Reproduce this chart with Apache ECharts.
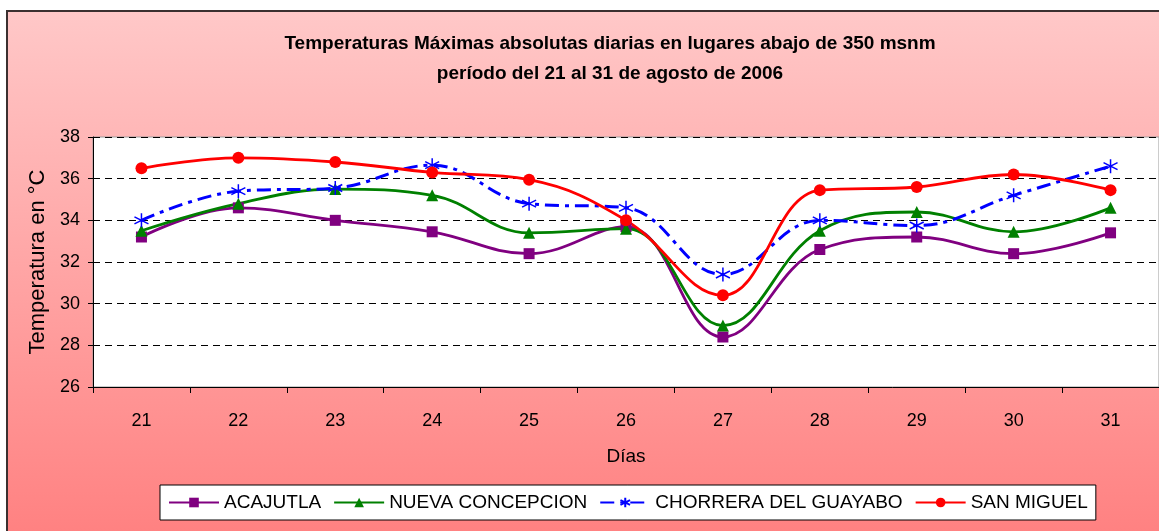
<!DOCTYPE html>
<html>
<head>
<meta charset="utf-8">
<style>
  html, body { margin: 0; padding: 0; background: #fff; }
  #chart { width: 1159px; height: 531px; }
</style>
<script src="https://cdn.jsdelivr.net/npm/echarts@6/dist/echarts.min.js"></script>
</head>
<body>
<div id="chart"></div>
<script>
// data
const days = ['21', '22', '23', '24', '25', '26', '27', '28', '29', '30', '31'];
const acajutla = [33.2, 34.6, 34.0, 33.45, 32.4, 33.7, 28.4, 32.6, 33.2, 32.4, 33.4];
const nuevaConcepcion = [33.5, 34.8, 35.5, 35.2, 33.4, 33.6, 28.95, 33.5, 34.4, 33.45, 34.6];
const chorrera = [34.0, 35.4, 35.55, 36.65, 34.8, 34.6, 31.4, 34.0, 33.75, 35.2, 36.6];
const sanMiguel = [36.5, 37.0, 36.8, 36.3, 35.95, 34.0, 30.4, 35.45, 35.6, 36.2, 35.45];

const font = '"Liberation Sans", Arial, sans-serif';
const asterisk = 'path://M5,0L5,10M0.7,2.5L9.3,7.5M0.7,7.5L9.3,2.5';

const chart = echarts.init(document.getElementById('chart'));

function line(name, data, color, symbol, size, extra) {
    return Object.assign({
        name: name,
        type: 'line',
        smooth: 0.4,
        data: data,
        symbol: symbol,
        symbolSize: size,
        lineStyle: { width: 2.8, color: color },
        itemStyle: { color: color }
    }, extra || {});
}

const option = {
    animation: false,
    graphic: [
        {
            type: 'rect',
            z: -10,
            silent: true,
            shape: { x: 7, y: 11, width: 1160, height: 530 },
            style: {
                fill: new echarts.graphic.LinearGradient(0, 0, 0, 1, [
                    { offset: 0, color: '#FFC8C8' },
                    { offset: 1, color: '#FF8080' }
                ]),
                stroke: '#3b3030',
                lineWidth: 2
            }
        }
    ],
    title: {
        text: 'Temperaturas Máximas absolutas diarias en lugares abajo de 350 msnm\nperíodo del 21 al 31 de agosto de 2006',
        left: 605,
        top: 24,
        textAlign: 'center',
        textStyle: {
            fontFamily: font,
            fontSize: 19,
            fontWeight: 'bold',
            color: '#000',
            lineHeight: 30
        }
    },
    legend: {
        left: 160,
        top: 485,
        padding: [8, 8],
        itemGap: 12,
        itemWidth: 50,
        itemHeight: 12,
        backgroundColor: '#fff',
        borderColor: '#000',
        borderWidth: 1,
        textStyle: { fontFamily: font, fontSize: 19, color: '#000' },
        data: ['ACAJUTLA', 'NUEVA CONCEPCION', 'CHORRERA DEL GUAYABO', 'SAN MIGUEL']
    },
    grid: {
        left: 93,
        top: 137,
        right: 0,
        bottom: 144,
        show: true,
        backgroundColor: '#fff',
        borderColor: '#999',
        borderWidth: 1
    },
    xAxis: {
        type: 'category',
        data: days,
        name: 'Días',
        nameLocation: 'middle',
        nameGap: 60,
        nameTextStyle: { fontFamily: font, fontSize: 19, color: '#000' },
        axisLine: { lineStyle: { color: '#000', width: 1 } },
        axisTick: { show: true, length: 6, lineStyle: { color: '#000' } },
        axisLabel: { margin: 25, fontFamily: font, fontSize: 18, color: '#000' }
    },
    yAxis: {
        type: 'value',
        min: 26,
        max: 38,
        interval: 2,
        name: 'Temperatura en °C',
        nameLocation: 'middle',
        nameGap: 44,
        nameTextStyle: { fontFamily: font, fontSize: 22, color: '#000' },
        axisLine: { show: true, lineStyle: { color: '#000', width: 1 } },
        axisTick: { show: true, length: 5, lineStyle: { color: '#000' } },
        axisLabel: { margin: 13, fontFamily: font, fontSize: 18, color: '#000' },
        splitLine: { lineStyle: { color: '#000', type: [7, 5], width: 1 } }
    },
    series: [
        line('ACAJUTLA', acajutla, '#800080', 'rect', 11),
        line('NUEVA CONCEPCION', nuevaConcepcion, '#008000', 'triangle', 12),
        line('CHORRERA DEL GUAYABO', chorrera, '#0000FF', asterisk, 14, {
            lineStyle: { width: 3, color: '#0000FF', type: [14, 6, 4, 6] },
            itemStyle: { color: 'none', borderColor: '#0000FF', borderWidth: 1.5 }
        }),
        line('SAN MIGUEL', sanMiguel, '#FF0000', 'circle', 12)
    ]
};
chart.setOption(option);
</script>
</body>
</html>
